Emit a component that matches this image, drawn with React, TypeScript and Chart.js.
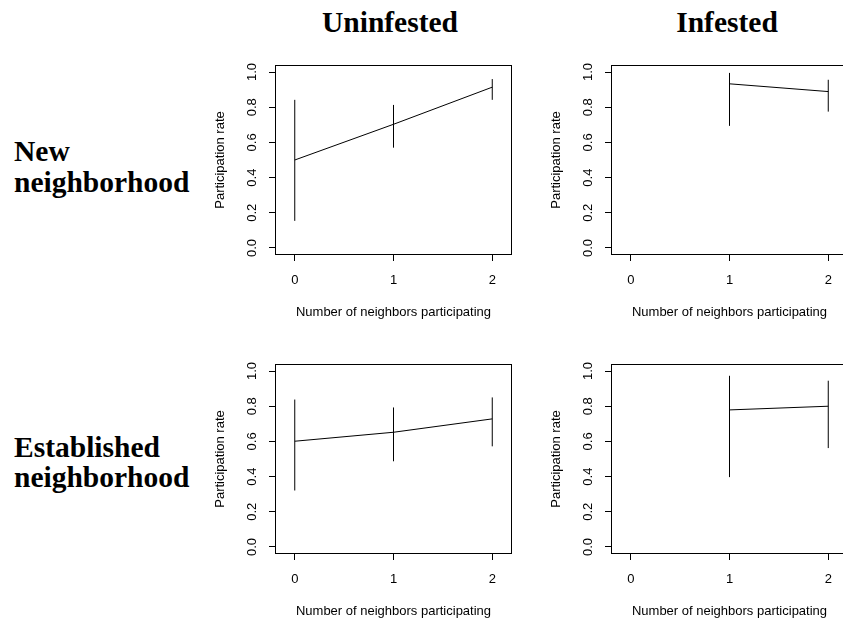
import React, { useEffect, useRef } from 'react';
import { Chart, registerables } from 'chart.js';

Chart.register(...registerables);

// ---- data ----
const X_TICKS = [0, 1, 2];
const Y_TICKS = [0, 0.2, 0.4, 0.6, 0.8, 1.0];
const X_LABEL = 'Number of neighbors participating';
const Y_LABEL = 'Participation rate';
const COL_TITLES = ['Uninfested', 'Infested'];
const ROW1_TITLE = ['New', 'neighborhood'];
const ROW2_TITLE = ['Established', 'neighborhood'];

// New neighborhood / Uninfested
const newUninfX = [0, 1, 2];
const newUninfMean = [0.5, 0.703, 0.914];
const newUninfLow = [0.154, 0.57, 0.842];
const newUninfHigh = [0.842, 0.813, 0.96];

// New neighborhood / Infested
const newInfX = [1, 2];
const newInfMean = [0.933, 0.889];
const newInfLow = [0.694, 0.775];
const newInfHigh = [0.995, 0.956];

// Established neighborhood / Uninfested
const estUninfX = [0, 1, 2];
const estUninfMean = [0.601, 0.652, 0.728];
const estUninfLow = [0.321, 0.487, 0.572];
const estUninfHigh = [0.838, 0.793, 0.85];

// Established neighborhood / Infested
const estInfX = [1, 2];
const estInfMean = [0.779, 0.8];
const estInfLow = [0.397, 0.562];
const estInfHigh = [0.973, 0.945];

const SANS = '"Liberation Sans", Arial, Helvetica, sans-serif';
const SERIF = '"Liberation Serif", "Times New Roman", serif';

const boxPlugin = {
  id: 'rbox',
  afterDraw(chart: any) {
    const { ctx, chartArea: a } = chart;
    ctx.save();
    ctx.strokeStyle = '#000';
    ctx.lineWidth = 1;
    const l = Math.round(a.left) + 0.5;
    const t = Math.round(a.top) + 0.5;
    const r = Math.round(a.right) - 0.5;
    const b = Math.round(a.bottom) - 0.5;
    ctx.strokeRect(l, t, r - l, b - t);
    ctx.restore();
  },
};

type PanelProps = {
  left: number;
  top: number;
  xs: number[];
  mean: number[];
  low: number[];
  high: number[];
};

const CW = 332;
const CH = 275;

function Panel({ left, top, xs, mean, low, high }: PanelProps) {
  const ref = useRef<HTMLCanvasElement | null>(null);
  useEffect(() => {
    if (!ref.current) return;
    const datasets: any[] = [
      {
        data: xs.map((x, i) => ({ x, y: mean[i] })),
        borderColor: '#000',
        borderWidth: 1,
        pointRadius: 0,
        tension: 0,
        fill: false,
      },
    ];
    xs.forEach((x, i) => {
      datasets.push({
        data: [
          { x, y: low[i] },
          { x, y: high[i] },
        ],
        borderColor: '#000',
        borderWidth: 1,
        pointRadius: 0,
        fill: false,
      });
    });
    const tickFont = { family: SANS, size: 13 };
    const chart = new Chart(ref.current, {
      type: 'line',
      data: { datasets },
      plugins: [boxPlugin],
      options: {
        responsive: false,
        animation: false,
        events: [],
        layout: { padding: { left: 0, top: 10, right: 20, bottom: 0 } },
        plugins: {
          legend: { display: false },
          tooltip: { enabled: false },
          title: { display: false },
        },
        scales: {
          x: {
            type: 'linear',
            position: 'bottom',
            min: -0.2,
            max: 2.2,
            afterBuildTicks: (s: any) => {
              s.ticks = X_TICKS.map((v) => ({ value: v }));
            },
            afterFit: (s: any) => {
              s.height = 75;
              s.paddingLeft = 0;
              s.paddingRight = 0;
              s.paddingTop = 0;
              s.paddingBottom = 0;
            },
            ticks: {
              color: '#000',
              font: tickFont,
              padding: 12,
              minRotation: 0,
              maxRotation: 0,
              callback: (v: any) => String(v),
            },
            grid: {
              display: true,
              drawOnChartArea: false,
              drawTicks: true,
              tickLength: 6,
              tickColor: '#000',
              tickWidth: 1,
            },
            border: { display: false },
            title: {
              display: true,
              text: X_LABEL,
              color: '#000',
              font: tickFont,
              padding: { top: 0, bottom: 10 },
            },
          },
          y: {
            type: 'linear',
            position: 'left',
            min: -0.04,
            max: 1.04,
            afterBuildTicks: (s: any) => {
              s.ticks = Y_TICKS.map((v) => ({ value: v }));
            },
            afterFit: (s: any) => {
              s.width = 75;
              s.paddingLeft = 0;
              s.paddingRight = 0;
              s.paddingTop = 0;
              s.paddingBottom = 0;
            },
            ticks: {
              color: '#000',
              font: tickFont,
              padding: 8,
              minRotation: 90,
              maxRotation: 90,
              crossAlign: 'center',
              callback: (v: any) => Number(v).toFixed(1),
            },
            grid: {
              display: true,
              drawOnChartArea: false,
              drawTicks: true,
              tickLength: 6,
              tickColor: '#000',
              tickWidth: 1,
            },
            border: { display: false },
            title: {
              display: true,
              text: Y_LABEL,
              color: '#000',
              font: tickFont,
              padding: { top: 13, bottom: 0 },
            },
          },
        },
      } as any,
    });
    return () => chart.destroy();
  }, []);
  return (
    <canvas
      ref={ref}
      width={CW}
      height={CH}
      style={{ position: 'absolute', left, top, width: CW, height: CH, display: 'block' }}
    />
  );
}

const titleStyle: React.CSSProperties = {
  position: 'absolute',
  fontFamily: SERIF,
  fontWeight: 'bold',
  fontSize: '29.5px',
  lineHeight: '29.5px',
  whiteSpace: 'nowrap',
  color: '#000',
};

export default function App() {
  return (
    <div
      style={{
        position: 'fixed',
        left: 0,
        top: 0,
        width: 843,
        height: 625,
        overflow: 'hidden',
        background: '#fff',
      }}
    >
      <div style={{ ...titleStyle, left: 190, top: 8, width: 400, textAlign: 'center' }}>{COL_TITLES[0]}</div>
      <div style={{ ...titleStyle, left: 527, top: 8, width: 400, textAlign: 'center' }}>{COL_TITLES[1]}</div>
      <div style={{ ...titleStyle, left: 14, top: 137 }}>{ROW1_TITLE[0]}</div>
      <div style={{ ...titleStyle, left: 14, top: 168 }}>{ROW1_TITLE[1]}</div>
      <div style={{ ...titleStyle, left: 14, top: 433 }}>{ROW2_TITLE[0]}</div>
      <div style={{ ...titleStyle, left: 14, top: 463 }}>{ROW2_TITLE[1]}</div>
      <Panel left={200} top={55} xs={newUninfX} mean={newUninfMean} low={newUninfLow} high={newUninfHigh} />
      <Panel left={536} top={55} xs={newInfX} mean={newInfMean} low={newInfLow} high={newInfHigh} />
      <Panel left={200} top={354} xs={estUninfX} mean={estUninfMean} low={estUninfLow} high={estUninfHigh} />
      <Panel left={536} top={354} xs={estInfX} mean={estInfMean} low={estInfLow} high={estInfHigh} />
    </div>
  );
}
